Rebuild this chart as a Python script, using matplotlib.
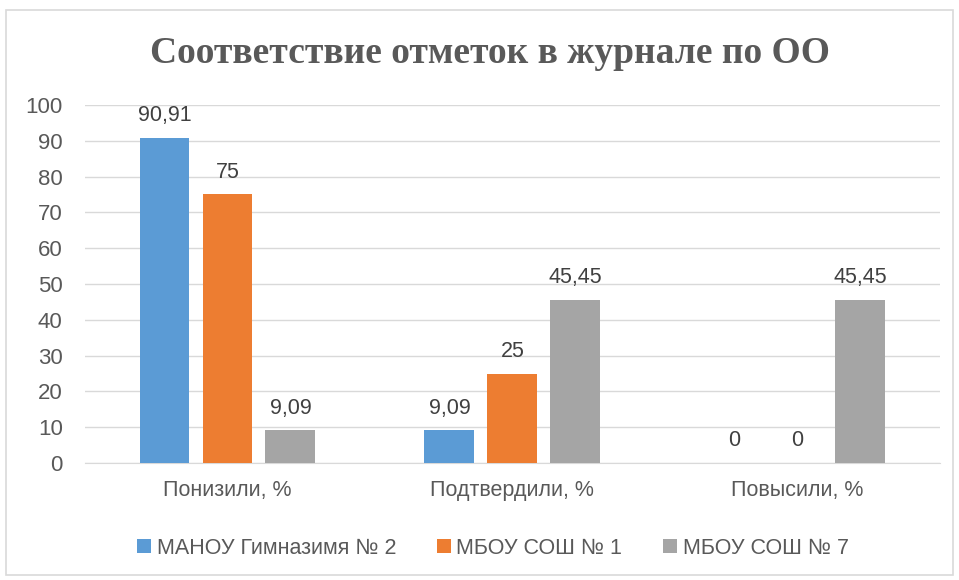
import numpy as np
import matplotlib
matplotlib.use("Agg")
import matplotlib.pyplot as plt
from matplotlib.patches import Rectangle

categories = ["Понизили, %", "Подтвердили, %", "Повысили, %"]
series_names = ["МАНОУ Гимназимя № 2", "МБОУ СОШ № 1", "МБОУ СОШ № 7"]
gimn2 = [90.91, 9.09, 0]
sosh1 = [75, 25, 0]
sosh7 = [9.09, 45.45, 45.45]
labels = [["90,91", "9,09", "0"], ["75", "25", "0"], ["9,09", "45,45", "45,45"]]
colors = ["#5b9bd5", "#ed7d31", "#a5a5a5"]

plt.rcParams['font.family'] = ['Liberation Sans', 'DejaVu Sans']

fig = plt.figure(figsize=(9.59, 5.8), dpi=100)
ax = fig.add_axes([0.0886, 0.2017, 0.8914, 0.6173])

# frame round the whole chart
fig.patches.append(Rectangle((0.006, 0.008), 0.988, 0.975, transform=fig.transFigure,
                             fill=False, edgecolor="#d9d9d9", linewidth=1.2))

x = np.arange(len(categories))
w = 0.175
step = 0.221
for i, vals in enumerate([gimn2, sosh1, sosh7]):
    pos = x + (i - 1) * step
    ax.bar(pos, vals, width=w, color=colors[i], label=series_names[i], zorder=3)
    for p, v, t in zip(pos, vals, labels[i]):
        ax.text(p, v + 3.3, t, ha="center", va="bottom", fontsize=15.5, color="#404040")

ax.set_xlim(-0.5, 2.5)
ax.set_ylim(0, 100)
ax.set_yticks(range(0, 101, 10))
ax.set_xticks(x)
ax.set_xticklabels(categories, fontsize=15.5)
ax.grid(axis="y", color="#d9d9d9", linewidth=1, zorder=0)
for s in ["top", "right", "left"]:
    ax.spines[s].set_visible(False)
ax.spines["bottom"].set_color("#d9d9d9")
ax.tick_params(axis="both", length=0, colors="#595959")
ax.tick_params(axis="y", pad=16, labelsize=16)
ax.tick_params(axis="x", pad=12)

fig.text(0.511, 0.907, "Соответствие отметок в журнале по ОО", ha="center", va="center",
         fontsize=27, fontweight="bold", color="#595959", family="Liberation Serif")

leg = fig.legend(loc="center", bbox_to_anchor=(0.514, 0.055), ncol=3, frameon=False,
                 fontsize=15.5, handlelength=0.65, handleheight=0.65, handletextpad=0.25,
                 columnspacing=1.9)
for t in leg.get_texts():
    t.set_color("#595959")

fig.savefig("out.png", dpi=100)
